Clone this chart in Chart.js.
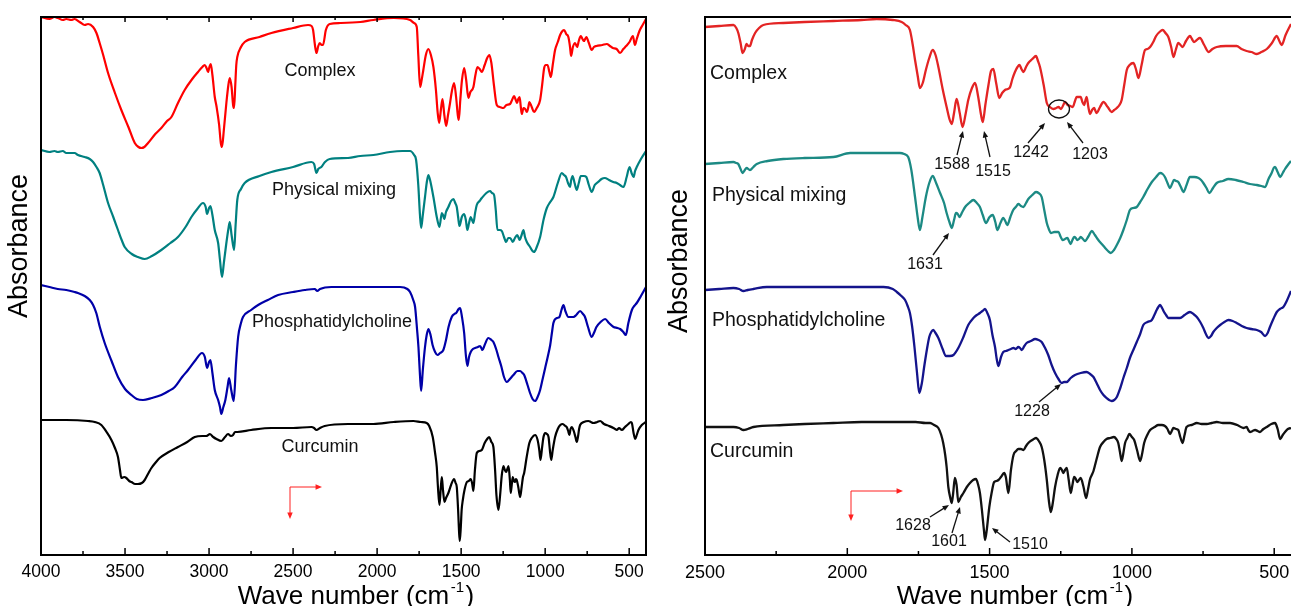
<!DOCTYPE html>
<html>
<head>
<meta charset="utf-8">
<script src="https://cdn.jsdelivr.net/npm/chart.js@4.4.1/dist/chart.umd.min.js"></script>
<style>
  html, body { margin: 0; padding: 0; background: #fff; overflow: hidden; }
  #wrap { position: relative; width: 1291px; height: 606px; }
  canvas { position: absolute; top: 0; }
  #ftirLeft { left: 0; }
  #ftirRight { left: 660px; }
</style>
</head>
<body>
<div id="wrap">
  <canvas id="ftirLeft" width="660" height="606"></canvas>
  <canvas id="ftirRight" width="640" height="606"></canvas>
</div>
<script>
// FTIR spectra, two panels (full range / fingerprint zoom)

const seriesNames = ['Complex', 'Physical mixing', 'Phosphatidylcholine', 'Curcumin'];

const leftTickValues = [4000, 3500, 3000, 2500, 2000, 1500, 1000, 500];
const leftMinorTicks = [3750, 3250, 2750, 2250, 1750, 1250, 750];
const rightTickValues = [2500, 2000, 1500, 1000, 500];
const rightMinorTicks = [2250, 1750, 1250, 750];

// [wave number, offset absorbance]
const complexLeft = [[4000,538],[3950,536],[3920,538],[3900,537],[3870,535],[3850,536],[3820,535],[3800,536],[3770,533],[3740,530],[3720,531],[3690,528],[3670,522],[3651,512],[3630,500],[3601,482],[3560,462],[3522,445],[3480,428],[3442,412],[3420,408],[3403,407],[3385,408],[3363,412],[3320,421],[3284,427],[3250,434],[3224,438],[3185,452],[3145,465],[3100,476],[3066,483],[3040,488],[3026,490],[3015,487],[3006,483],[2998,488],[2990,491],[2980,480],[2966,458],[2955,448],[2940,430],[2930,412],[2923,408],[2912,425],[2897,452],[2885,470],[2877,477],[2866,468],[2857,450],[2851,447],[2844,470],[2838,490],[2832,498],[2810,508],[2788,513],[2700,518],[2629,522],[2500,527],[2411,530],[2390,529],[2381,525],[2370,510],[2361,502],[2350,509],[2341,512],[2330,510],[2322,510],[2305,525],[2282,531],[2220,532],[2100,533],[2022,535],[1900,537],[1804,535],[1780,532],[1764,528],[1755,500],[1744,468],[1735,475],[1725,485],[1710,500],[1695,506],[1680,500],[1665,488],[1650,465],[1640,443],[1631,432],[1620,446],[1611,456],[1600,440],[1589,429],[1578,440],[1566,452],[1555,464],[1542,472],[1530,458],[1520,440],[1514,435],[1505,455],[1495,475],[1482,487],[1470,475],[1457,457],[1445,463],[1427,468],[1415,480],[1403,488],[1390,486],[1377,483],[1360,490],[1345,497],[1332,500],[1320,492],[1305,470],[1288,450],[1270,448],[1248,447],[1230,450],[1209,451],[1197,455],[1185,459],[1175,455],[1167,452],[1160,456],[1152,458],[1145,448],[1139,441],[1129,447],[1119,446],[1109,443],[1100,448],[1094,453],[1080,448],[1066,443],[1050,447],[1030,455],[1018,470],[1006,487],[996,490],[986,490],[975,483],[966,478],[955,490],[941,505],[925,513],[911,520],[897,524],[887,525],[875,521],[862,518],[852,508],[846,499],[835,508],[822,512],[810,508],[800,514],[788,519],[778,516],[769,514],[755,518],[740,512],[723,505],[710,508],[695,509],[660,510],[633,511],[615,509],[597,507],[575,506],[554,502],[535,506],[518,509],[498,513],[478,519],[466,510],[455,516],[439,524],[420,530],[400,536]];

const mixLeft = [[4000,405],[3950,403],[3920,404],[3900,403],[3870,404],[3850,402],[3800,402],[3780,400],[3740,398],[3710,396],[3690,393],[3670,388],[3651,382],[3630,370],[3601,352],[3570,338],[3542,325],[3520,315],[3502,308],[3460,301],[3423,298],[3383,296],[3340,299],[3284,305],[3230,312],[3185,318],[3140,328],[3105,338],[3070,346],[3036,352],[3020,348],[3012,341],[3000,347],[2992,349],[2980,340],[2966,325],[2946,312],[2935,295],[2923,278],[2912,292],[2897,312],[2885,326],[2877,333],[2866,320],[2851,305],[2842,330],[2832,355],[2810,366],[2788,372],[2700,379],[2629,383],[2500,388],[2391,393],[2375,391],[2361,382],[2350,386],[2332,388],[2310,393],[2282,396],[2173,397],[2100,399],[2022,400],[1923,403],[1850,404],[1804,404],[1780,400],[1768,395],[1755,370],[1745,340],[1738,327],[1728,340],[1715,358],[1705,372],[1695,380],[1685,375],[1665,358],[1645,338],[1629,328],[1615,342],[1608,340],[1601,336],[1590,343],[1576,348],[1560,354],[1546,356],[1535,352],[1526,348],[1518,338],[1510,329],[1496,338],[1482,341],[1472,335],[1463,325],[1453,332],[1443,338],[1435,335],[1427,332],[1417,342],[1407,350],[1390,354],[1377,357],[1350,362],[1328,364],[1316,362],[1304,360],[1294,345],[1284,325],[1270,325],[1258,324],[1245,318],[1232,313],[1220,317],[1209,317],[1200,315],[1193,313],[1180,317],[1167,320],[1160,318],[1152,315],[1140,320],[1129,325],[1120,318],[1109,313],[1090,308],[1075,304],[1066,303],[1050,308],[1030,318],[1010,335],[990,347],[970,353],[951,358],[925,372],[901,382],[888,380],[876,378],[864,372],[852,368],[845,375],[837,379],[825,372],[812,365],[800,372],[788,379],[770,379],[755,378],[740,370],[723,363],[705,370],[685,373],[665,376],[645,377],[620,375],[595,373],[574,372],[555,370],[534,368],[515,378],[498,388],[486,382],[474,378],[465,384],[455,388],[430,396],[400,404]];

const pcLeft = [[4000,270],[3950,268],[3900,266],[3850,265],[3800,263],[3780,262],[3740,259],[3710,255],[3690,250],[3671,242],[3650,228],[3621,212],[3580,194],[3542,178],[3500,166],[3462,160],[3430,156],[3393,155],[3340,157],[3284,160],[3240,164],[3204,168],[3160,178],[3125,185],[3080,195],[3042,202],[3025,198],[3012,187],[3000,193],[2992,195],[2980,182],[2966,165],[2946,155],[2935,148],[2927,141],[2915,148],[2903,155],[2890,168],[2881,177],[2868,165],[2853,154],[2840,190],[2827,218],[2810,232],[2798,238],[2750,245],[2708,250],[2650,255],[2589,260],[2500,263],[2430,265],[2371,266],[2356,264],[2340,266],[2272,268],[2173,268],[2000,268],[1900,268],[1863,268],[1820,266],[1804,263],[1785,255],[1774,248],[1762,225],[1754,208],[1745,180],[1738,164],[1728,185],[1715,208],[1705,220],[1695,226],[1682,220],[1670,210],[1655,203],[1641,200],[1625,202],[1606,205],[1590,215],[1575,228],[1556,238],[1540,241],[1530,242],[1515,246],[1506,247],[1495,238],[1482,222],[1472,200],[1463,189],[1453,198],[1443,203],[1430,206],[1417,207],[1400,208],[1387,209],[1373,205],[1360,210],[1338,217],[1320,215],[1308,213],[1290,205],[1278,198],[1260,188],[1245,178],[1228,173],[1210,176],[1189,180],[1165,184],[1149,184],[1135,182],[1125,180],[1105,170],[1090,162],[1075,156],[1060,154],[1045,158],[1030,165],[1015,176],[1000,187],[985,198],[970,210],[960,222],[951,232],[930,237],[915,238],[903,245],[891,250],[880,244],[862,238],[845,238],[832,238],[815,240],[792,244],[775,241],[763,238],[745,228],[723,218],[710,222],[695,228],[670,233],[643,236],[620,232],[593,228],[570,227],[554,226],[535,223],[520,220],[505,232],[484,245],[470,249],[455,252],[430,259],[400,268]];

const curLeft = [[4000,135],[3850,135],[3720,134],[3680,133],[3641,130],[3610,123],[3581,115],[3560,107],[3542,98],[3530,85],[3522,77],[3505,78],[3492,77],[3475,74],[3462,73],[3440,71],[3423,71],[3400,72],[3383,75],[3360,82],[3343,87],[3320,92],[3294,97],[3240,103],[3185,108],[3130,113],[3085,118],[3040,119],[3016,119],[3005,120],[2996,121],[2975,118],[2956,116],[2927,114],[2905,118],[2887,121],[2870,119],[2857,120],[2845,123],[2832,123],[2750,125],[2629,127],[2500,127],[2391,128],[2375,127],[2361,125],[2340,127],[2312,129],[2173,131],[2100,131],[2022,131],[1900,133],[1784,134],[1740,133],[1705,132],[1690,129],[1669,118],[1655,102],[1645,88],[1638,68],[1629,50],[1622,65],[1615,78],[1608,65],[1599,53],[1590,57],[1576,62],[1560,70],[1542,76],[1533,72],[1526,68],[1518,45],[1512,22],[1508,14],[1502,28],[1497,45],[1490,55],[1480,65],[1466,73],[1455,74],[1443,76],[1435,72],[1427,64],[1418,85],[1407,102],[1392,104],[1377,105],[1360,112],[1345,116],[1333,118],[1320,113],[1308,108],[1298,85],[1290,60],[1278,45],[1268,60],[1258,80],[1248,89],[1240,85],[1232,83],[1225,86],[1218,89],[1210,75],[1205,62],[1199,70],[1193,78],[1186,74],[1179,73],[1174,76],[1169,75],[1160,68],[1149,58],[1140,68],[1132,78],[1125,82],[1110,98],[1094,112],[1080,117],[1060,120],[1045,115],[1035,105],[1028,95],[1018,108],[1010,118],[1000,122],[990,121],[980,118],[972,105],[964,95],[955,105],[941,118],[925,126],[910,130],[895,131],[880,129],[872,128],[863,124],[856,120],[849,126],[842,128],[830,124],[820,118],[812,113],[805,118],[798,126],[792,130],[770,133],[743,134],[728,133],[713,132],[690,133],[673,134],[650,131],[620,129],[594,127],[584,126],[574,125],[560,127],[544,125],[525,128],[505,131],[490,133],[484,132],[474,122],[464,116],[455,120],[445,125],[425,130],[400,133]];

const complexRight = [[2500,528],[2450,529],[2400,530],[2390,527],[2383,522],[2375,512],[2368,502],[2360,506],[2354,511],[2348,509],[2342,509],[2335,515],[2324,522],[2310,527],[2295,530],[2225,532],[2150,533],[2049,534],[1950,535],[1897,536],[1840,535],[1809,533],[1795,530],[1780,525],[1770,510],[1762,495],[1752,478],[1745,467],[1735,472],[1724,485],[1712,497],[1700,505],[1690,500],[1680,488],[1665,466],[1651,448],[1640,435],[1633,431],[1625,442],[1616,456],[1605,442],[1595,428],[1585,440],[1575,455],[1562,467],[1551,472],[1540,458],[1530,440],[1524,433],[1515,450],[1504,470],[1495,484],[1487,486],[1477,472],[1466,457],[1456,462],[1446,465],[1436,466],[1428,468],[1420,476],[1411,483],[1402,488],[1395,490],[1388,486],[1381,483],[1372,488],[1364,492],[1350,496],[1337,499],[1330,494],[1323,488],[1310,470],[1299,452],[1288,448],[1276,446],[1266,447],[1258,448],[1249,446],[1241,450],[1235,453],[1226,450],[1216,449],[1208,448],[1200,454],[1194,458],[1187,458],[1180,458],[1174,453],[1168,450],[1163,455],[1159,458],[1153,448],[1147,441],[1140,445],[1133,447],[1128,444],[1124,442],[1112,448],[1100,453],[1085,448],[1071,443],[1062,445],[1053,447],[1044,450],[1036,455],[1027,470],[1018,485],[1008,490],[995,492],[986,486],[977,477],[966,490],[954,505],[945,506],[936,508],[925,513],[915,519],[903,523],[892,525],[882,522],[872,518],[862,508],[854,498],[846,505],[837,512],[829,510],[822,508],[810,514],[796,519],[789,516],[782,513],[772,515],[761,517],[746,510],[731,503],[717,506],[702,508],[670,509],[632,509],[615,506],[597,504],[580,503],[561,501],[545,503],[526,506],[508,512],[491,519],[482,514],[474,510],[460,520],[441,531]];

const mixRight = [[2500,391],[2450,392],[2400,393],[2390,392],[2383,391],[2375,386],[2368,382],[2360,385],[2354,387],[2342,385],[2330,388],[2318,391],[2280,394],[2225,396],[2150,397],[2049,398],[1990,402],[1900,402],[1815,402],[1800,401],[1786,398],[1775,385],[1762,358],[1752,336],[1745,325],[1736,338],[1724,358],[1712,372],[1700,379],[1688,372],[1674,362],[1660,352],[1651,342],[1640,332],[1633,327],[1625,335],[1618,342],[1612,341],[1606,338],[1596,343],[1586,348],[1572,352],[1557,355],[1545,352],[1534,348],[1524,340],[1513,332],[1500,338],[1489,340],[1480,333],[1473,325],[1462,332],[1452,337],[1445,334],[1438,330],[1427,338],[1417,345],[1408,348],[1399,351],[1390,349],[1381,348],[1372,352],[1364,356],[1350,360],[1337,363],[1328,362],[1317,358],[1308,345],[1299,332],[1292,326],[1285,322],[1272,323],[1258,323],[1250,318],[1243,315],[1235,316],[1227,317],[1221,314],[1215,311],[1209,315],[1203,318],[1197,317],[1192,315],[1186,316],[1180,318],[1172,316],[1165,314],[1152,319],[1141,324],[1130,320],[1118,315],[1106,311],[1094,307],[1084,304],[1074,302],[1063,305],[1053,310],[1041,317],[1030,325],[1018,335],[1007,345],[995,347],[983,348],[971,353],[960,358],[945,366],[930,373],[915,378],[901,382],[892,381],[884,378],[875,372],[866,367],[859,371],[852,375],[845,374],[837,373],[828,368],[819,363],[808,370],[796,378],[781,378],[766,377],[757,375],[749,372],[738,367],[728,362],[715,367],[702,372],[680,374],[661,376],[635,375],[608,373],[585,371],[561,370],[545,369],[532,368],[520,376],[509,382],[502,387],[497,388],[488,383],[479,378],[470,382],[462,386],[452,390],[441,394]];

const pcRight = [[2500,265],[2450,266],[2400,267],[2380,266],[2365,264],[2350,265],[2330,266],[2283,268],[2200,268],[2049,268],[1950,268],[1873,268],[1840,266],[1826,263],[1810,259],[1797,255],[1788,249],[1780,242],[1772,228],[1764,208],[1755,182],[1747,162],[1738,172],[1730,188],[1720,206],[1712,218],[1705,223],[1698,225],[1690,222],[1680,217],[1665,206],[1653,199],[1640,199],[1627,200],[1610,207],[1592,218],[1575,230],[1557,237],[1545,240],[1534,242],[1525,244],[1516,246],[1508,242],[1499,235],[1490,220],[1481,208],[1475,196],[1469,189],[1460,198],[1452,203],[1443,204],[1434,205],[1425,206],[1416,207],[1408,206],[1399,208],[1393,207],[1387,205],[1378,209],[1370,212],[1355,214],[1340,216],[1328,215],[1317,213],[1305,207],[1294,200],[1282,190],[1270,182],[1258,176],[1247,172],[1238,173],[1229,173],[1215,177],[1200,180],[1180,182],[1159,183],[1147,181],[1135,178],[1124,172],[1112,165],[1100,160],[1089,157],[1080,155],[1071,154],[1062,155],[1053,158],[1042,166],[1030,177],[1018,187],[1007,197],[995,205],[983,213],[971,221],[960,230],[945,233],[930,235],[921,240],[913,245],[907,248],[901,250],[894,247],[887,243],[880,240],[872,237],[850,237],[831,237],[815,240],[796,243],[784,241],[772,238],[760,233],[749,227],[740,221],[731,217],[722,219],[714,223],[702,227],[690,230],[675,233],[661,235],[646,234],[632,232],[614,229],[597,227],[580,226],[561,225],[546,223],[532,219],[523,222],[515,228],[503,236],[491,243],[480,246],[468,248],[456,254],[441,264]];

const curRight = [[2500,128],[2450,128],[2400,128],[2380,127],[2365,125],[2350,126],[2330,128],[2225,130],[2150,131],[2049,132],[1950,133],[1873,133],[1800,133],[1760,133],[1725,132],[1709,132],[1695,130],[1680,127],[1670,120],[1663,112],[1656,100],[1651,88],[1645,68],[1638,57],[1633,52],[1628,62],[1622,77],[1616,70],[1610,53],[1601,58],[1592,62],[1580,68],[1569,72],[1558,75],[1548,76],[1540,70],[1534,62],[1527,45],[1520,25],[1516,15],[1510,25],[1505,38],[1501,48],[1493,62],[1484,73],[1476,74],[1469,75],[1460,78],[1449,82],[1443,78],[1434,62],[1425,85],[1416,100],[1407,104],[1399,106],[1390,106],[1381,105],[1372,109],[1364,112],[1350,115],[1337,117],[1327,114],[1317,108],[1308,95],[1299,75],[1292,55],[1285,43],[1278,52],[1270,68],[1261,80],[1252,87],[1246,85],[1241,82],[1235,85],[1229,87],[1222,75],[1215,62],[1209,70],[1203,78],[1197,76],[1192,73],[1186,75],[1180,77],[1170,68],[1161,57],[1154,66],[1147,76],[1141,80],[1135,84],[1124,96],[1112,108],[1100,113],[1089,116],[1076,117],[1063,118],[1055,116],[1048,112],[1042,103],[1036,94],[1030,102],[1024,112],[1016,117],[1009,121],[1000,118],[992,115],[982,105],[971,94],[965,100],[957,112],[946,120],[936,125],[920,128],[907,130],[895,130],[884,129],[875,126],[866,121],[860,124],[854,127],[845,126],[837,125],[830,118],[822,112],[815,120],[808,128],[790,130],[772,132],[755,131],[737,131],[720,132],[702,133],[680,132],[655,132],[630,130],[608,127],[597,128],[591,125],[585,123],[576,124],[567,125],[558,124],[550,123],[538,126],[526,128],[510,131],[497,132],[488,126],[479,116],[470,120],[462,123],[452,126],[441,127]];

const FONT = '"Liberation Sans", Arial, Helvetica, sans-serif';

// page-pixel layout of each panel (kept apart from the data)
const leftPanel = {
  canvas: 'ftirLeft', offsetX: 0,
  xMax: 4000, xMin: 400,
  ticks: leftTickValues, minor: leftMinorTicks,
  series: [complexLeft, mixLeft, pcLeft, curLeft],
  colors: ['#ff0000', '#008080', '#0000a8', '#000000'],
  lineWidth: 2.2,
  padding: { left: 41, top: 17, right: 14, bottom: 0 },
  tickFont: 17.5, labelFont: 18, labelAlign: 'center',
  labelPos: [[320, 71], [334, 190], [332, 322], [320, 447]],
  yTitle: [20, 246], yTitleFont: 27, xTitle: [356, 604],
  rightBorder: true, topTicks: true,
  marker: [290, 487, 322, 519],
  notes: [], ring: null
};

const rightPanel = {
  canvas: 'ftirRight', offsetX: 660,
  xMax: 2500, xMin: 441,
  ticks: rightTickValues, minor: rightMinorTicks,
  series: [complexRight, mixRight, pcRight, curRight],
  colors: ['#e32424', '#1c8a84', '#14148c', '#111111'],
  lineWidth: 2.3,
  padding: { left: 45, top: 17, right: 9, bottom: 0 },
  tickFont: 18, labelFont: 19.5, labelAlign: 'left',
  labelPos: [[710, 74], [712, 196], [712, 321], [710, 452]],
  yTitle: [680, 261], yTitleFont: 27, xTitle: [1015, 604],
  rightBorder: false, topTicks: false,
  marker: [851, 491, 903, 521],
  notes: [
    { t: '1588', at: [952, 165], from: [957, 155], to: [963, 131] },
    { t: '1515', at: [993, 172], from: [990, 157], to: [984, 131] },
    { t: '1242', at: [1031, 153], from: [1028, 143], to: [1045, 123] },
    { t: '1203', at: [1090, 155], from: [1083, 143], to: [1067, 122] },
    { t: '1631', at: [925, 265], from: [933, 255], to: [949, 233] },
    { t: '1228', at: [1032, 412], from: [1039, 402], to: [1061, 384] },
    { t: '1628', at: [913, 526], from: [930, 517], to: [949, 505] },
    { t: '1601', at: [949, 542], from: [952, 533], to: [960, 507] },
    { t: '1510', at: [1030, 545], from: [1010, 542], to: [992, 528] }
  ],
  ring: [1059, 109, 10.5, 9]
};

function drawArrow(ctx, x1, y1, x2, y2, color, head, width) {
  const a = Math.atan2(y2 - y1, x2 - x1);
  ctx.strokeStyle = color;
  ctx.fillStyle = color;
  ctx.lineWidth = width;
  ctx.beginPath();
  ctx.moveTo(x1, y1);
  ctx.lineTo(x2 - Math.cos(a) * head * 0.7, y2 - Math.sin(a) * head * 0.7);
  ctx.stroke();
  ctx.beginPath();
  ctx.moveTo(x2, y2);
  ctx.lineTo(x2 - head * Math.cos(a - 0.4), y2 - head * Math.sin(a - 0.4));
  ctx.lineTo(x2 - head * Math.cos(a + 0.4), y2 - head * Math.sin(a + 0.4));
  ctx.closePath();
  ctx.fill();
}

function makeOverlay(p) {
  return {
    id: 'ftirOverlay',
    afterDraw(chart) {
      const ctx = chart.ctx;
      const { left, top, right, bottom } = chart.chartArea;
      const xs = chart.scales.x;
      const ox = p.offsetX;
      ctx.save();

      // frame
      ctx.strokeStyle = '#000';
      ctx.lineWidth = 2;
      ctx.lineCap = 'square';
      ctx.beginPath();
      ctx.moveTo(left, top); ctx.lineTo(left, bottom);
      ctx.moveTo(left, bottom); ctx.lineTo(right, bottom);
      ctx.moveTo(left, top); ctx.lineTo(right, top);
      if (p.rightBorder) { ctx.moveTo(right, top); ctx.lineTo(right, bottom); }
      ctx.stroke();

      // inward tick marks
      ctx.lineWidth = 1.5;
      ctx.lineCap = 'butt';
      ctx.beginPath();
      p.ticks.forEach(v => {
        const x = xs.getPixelForValue(v);
        ctx.moveTo(x, bottom); ctx.lineTo(x, bottom - 7);
        if (p.topTicks) { ctx.moveTo(x, top); ctx.lineTo(x, top + 5); }
      });
      p.minor.forEach(v => {
        const x = xs.getPixelForValue(v);
        ctx.moveTo(x, bottom); ctx.lineTo(x, bottom - 4);
        if (p.topTicks) { ctx.moveTo(x, top); ctx.lineTo(x, top + 3); }
      });
      ctx.stroke();

      ctx.fillStyle = '#000';

      // y title
      ctx.save();
      ctx.translate(p.yTitle[0] - ox, p.yTitle[1]);
      ctx.rotate(-Math.PI / 2);
      ctx.font = `${p.yTitleFont}px ${FONT}`;
      ctx.textAlign = 'center';
      ctx.textBaseline = 'middle';
      ctx.fillText('Absorbance', 0, 0);
      ctx.restore();

      // x title with superscript
      const main = 'Wave number (cm';
      ctx.textAlign = 'left';
      ctx.textBaseline = 'alphabetic';
      ctx.font = `26px ${FONT}`;
      const w1 = ctx.measureText(main).width;
      const w3 = ctx.measureText(')').width;
      ctx.font = `15px ${FONT}`;
      const w2 = ctx.measureText('-1').width;
      const x0 = p.xTitle[0] - ox - (w1 + w2 + w3 + 3) / 2;
      ctx.font = `26px ${FONT}`;
      ctx.fillText(main, x0, p.xTitle[1]);
      ctx.fillText(')', x0 + w1 + w2 + 3, p.xTitle[1]);
      ctx.font = `15px ${FONT}`;
      ctx.fillText('-1', x0 + w1 + 1.5, p.xTitle[1] - 12);

      // series names
      ctx.font = `${p.labelFont}px ${FONT}`;
      ctx.textAlign = p.labelAlign;
      ctx.textBaseline = 'middle';
      ctx.fillStyle = '#111';
      seriesNames.forEach((name, i) => {
        ctx.fillText(name, p.labelPos[i][0] - ox, p.labelPos[i][1]);
      });

      // peak notes
      ctx.font = `16px ${FONT}`;
      ctx.textAlign = 'center';
      p.notes.forEach(n => {
        ctx.fillStyle = '#111';
        ctx.fillText(n.t, n.at[0] - ox, n.at[1]);
        drawArrow(ctx, n.from[0] - ox, n.from[1], n.to[0] - ox, n.to[1], '#111', 7, 1.3);
      });
      if (p.ring) {
        ctx.strokeStyle = '#111';
        ctx.lineWidth = 1.3;
        ctx.beginPath();
        ctx.ellipse(p.ring[0] - ox, p.ring[1], p.ring[2], p.ring[3], 0, 0, Math.PI * 2);
        ctx.stroke();
      }

      // small red direction marker
      const [mx, my, mr, md] = p.marker;
      drawArrow(ctx, mx - ox, my, mr - ox, my, '#ff2020', 7, 1);
      drawArrow(ctx, mx - ox, my, mx - ox, md, '#ff2020', 7, 1);

      ctx.restore();
    }
  };
}

function makeChart(p) {
  const ctx = document.getElementById(p.canvas);
  return new Chart(ctx, {
    type: 'line',
    data: {
      datasets: p.series.map((s, i) => ({
        label: seriesNames[i],
        data: s.map(pt => ({ x: pt[0], y: pt[1] })),
        borderColor: p.colors[i],
        borderWidth: p.lineWidth,
        pointRadius: 0,
        fill: false,
        cubicInterpolationMode: 'monotone'
      }))
    },
    options: {
      responsive: false,
      animation: false,
      devicePixelRatio: 1,
      events: [],
      layout: { padding: p.padding },
      plugins: { legend: { display: false }, tooltip: { enabled: false } },
      scales: {
        x: {
          type: 'linear',
          reverse: true,
          min: p.xMin,
          max: p.xMax,
          afterBuildTicks: s => { s.ticks = p.ticks.map(v => ({ value: v })); },
          afterFit: s => { s.height = 51; },
          grid: { display: false, drawTicks: false },
          border: { display: false },
          ticks: {
            color: '#000',
            font: { family: FONT, size: p.tickFont },
            padding: 7,
            maxRotation: 0,
            autoSkip: false,
            callback: v => String(v)
          }
        },
        y: { display: false, min: 0, max: 538 }
      }
    },
    plugins: [makeOverlay(p)]
  });
}

document.addEventListener('DOMContentLoaded', function() {
  makeChart(leftPanel);
  makeChart(rightPanel);
});
</script>
</body>
</html>
